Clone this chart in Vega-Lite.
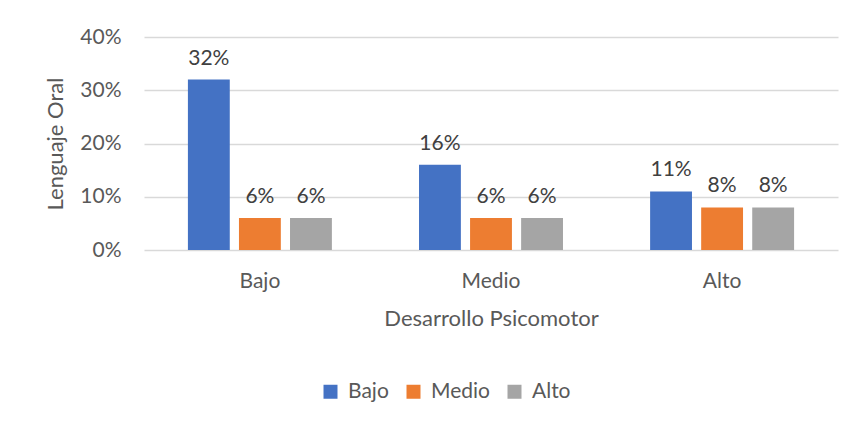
{
  "$schema": "https://vega.github.io/schema/vega-lite/v6.json",
  "width": 694,
  "height": 213,
  "autosize": {"type": "none"},
  "padding": {"left": 144, "top": 37, "right": 16, "bottom": 176},
  "background": "white",
  "data": {
    "values": [
      {"grupo": "Bajo", "serie": "Bajo", "valor": 0.32},
      {"grupo": "Bajo", "serie": "Medio", "valor": 0.06},
      {"grupo": "Bajo", "serie": "Alto", "valor": 0.06},
      {"grupo": "Medio", "serie": "Bajo", "valor": 0.16},
      {"grupo": "Medio", "serie": "Medio", "valor": 0.06},
      {"grupo": "Medio", "serie": "Alto", "valor": 0.06},
      {"grupo": "Alto", "serie": "Bajo", "valor": 0.11},
      {"grupo": "Alto", "serie": "Medio", "valor": 0.08},
      {"grupo": "Alto", "serie": "Alto", "valor": 0.08}
    ]
  },
  "encoding": {
    "x": {
      "field": "grupo",
      "type": "nominal",
      "sort": ["Bajo", "Medio", "Alto"],
      "scale": {"paddingInner": 0.377, "paddingOuter": 0.19},
      "axis": {
        "title": "Desarrollo Psicomotor",
        "labelAngle": 0,
        "ticks": false,
        "domain": false,
        "labelPadding": 20,
        "titlePadding": 17
      }
    },
    "xOffset": {
      "field": "serie",
      "type": "nominal",
      "sort": ["Bajo", "Medio", "Alto"],
      "scale": {"paddingInner": 0.18, "paddingOuter": 0}
    },
    "y": {
      "field": "valor",
      "type": "quantitative",
      "scale": {"domain": [0, 0.4]},
      "axis": {
        "title": "Lenguaje Oral",
        "values": [0, 0.1, 0.2, 0.3, 0.4],
        "format": ".0%",
        "ticks": false,
        "domain": false,
        "labelPadding": 23,
        "titlePadding": 12
      }
    },
    "color": {
      "field": "serie",
      "type": "nominal",
      "sort": ["Bajo", "Medio", "Alto"],
      "scale": {"domain": ["Bajo", "Medio", "Alto"], "range": ["#4472C4", "#ED7D31", "#A5A5A5"]},
      "legend": {
        "title": null,
        "orient": "none",
        "legendX": 176,
        "legendY": 344,
        "direction": "horizontal",
        "symbolType": "square",
        "symbolSize": 196,
        "symbolStrokeWidth": 0,
        "symbolOffset": 0,
        "labelFontSize": 21,
        "labelColor": "#595959",
        "labelFont": "Lato",
        "labelOffset": 7,
        "columnPadding": 14
      }
    }
  },
  "layer": [
    {"mark": {"type": "bar"}},
    {
      "mark": {"type": "text", "baseline": "bottom", "dy": -11, "fontSize": 21, "font": "Lato", "color": "#404040"},
      "encoding": {
        "text": {"field": "valor", "type": "quantitative", "format": ".0%"},
        "color": {"value": "#404040"}
      }
    }
  ],
  "config": {
    "view": {"stroke": null},
    "axis": {
      "labelFont": "Lato",
      "titleFont": "Lato",
      "labelFontSize": 21,
      "titleFontSize": 22,
      "labelColor": "#595959",
      "titleColor": "#595959",
      "titleFontWeight": "normal",
      "gridColor": "#D9D9D9",
      "gridWidth": 1.6
    },
    "axisX": {"grid": false},
    "axisY": {"grid": true}
  }
}
